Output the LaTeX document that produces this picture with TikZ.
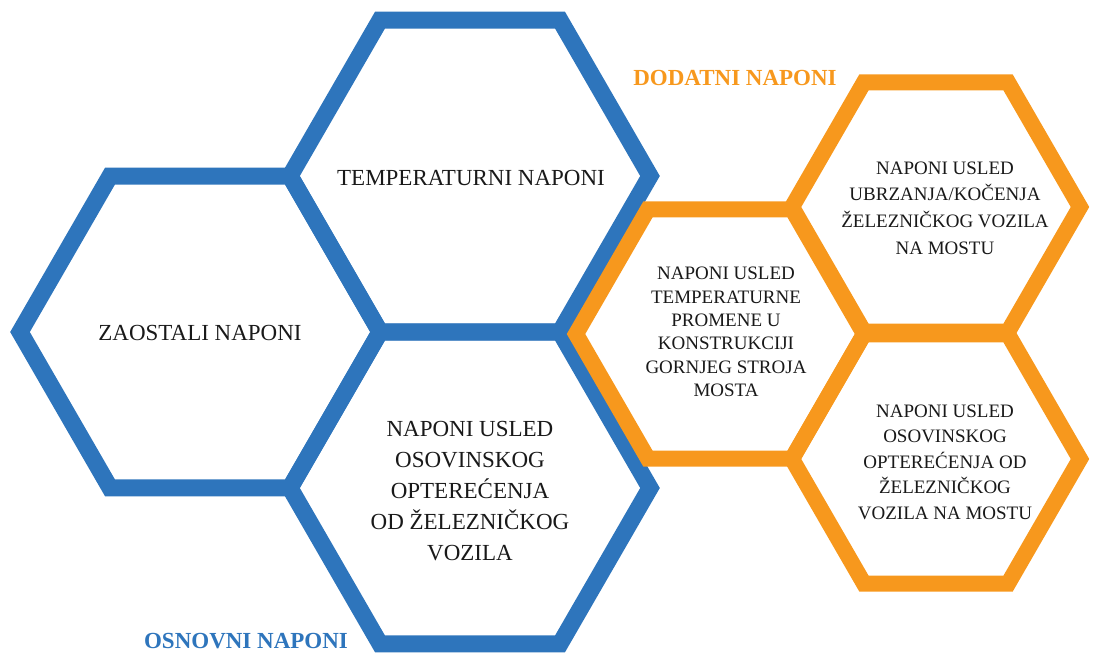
\documentclass[tikz,border=0pt]{standalone}
\usepackage{fontspec}
\setmainfont{Liberation Serif}
\definecolor{hexblue}{RGB}{46,117,188}
\definecolor{hexorange}{RGB}{247,152,29}
\definecolor{txt}{RGB}{25,25,25}
\newcommand{\hexcell}[4]{\draw[#4, shift={(#1,#2)}] (0:#3) -- (60:#3) -- (120:#3) -- (180:#3) -- (240:#3) -- (300:#3) -- cycle;}
\tikzset{
  bluehex/.style={draw=hexblue, line width=17pt, line join=miter},
  orangehex/.style={draw=hexorange, line width=16pt, line join=miter},
  bigtext/.style={text=txt, align=center, font=\fontsize{23}{31}\selectfont},
  smalltext/.style={text=txt, align=center, font=\fontsize{19}{#1}\selectfont},
  title/.style={font=\bfseries\fontsize{23}{28}\selectfont}
}
\begin{document}
\begin{tikzpicture}[x=1pt,y=-1pt]
\useasboundingbox (0,0) rectangle (1093,653);
% blue honeycomb
\hexcell{200}{332}{180}{bluehex}
\hexcell{470}{176}{180}{bluehex}
\hexcell{470}{488}{180}{bluehex}
% orange honeycomb
\hexcell{720}{334}{144}{orangehex}
\hexcell{936}{207}{144}{orangehex}
\hexcell{936}{459}{144}{orangehex}
% texts
\node[bigtext] (zaostali) at (200,333) {ZAOSTALI NAPONI};
\node[bigtext] (temp) at (471,178) {TEMPERATURNI NAPONI};
\node[bigtext] (osov) at (470,491) {NAPONI USLED\\OSOVINSKOG\\OPTEREĆENJA\\OD ŽELEZNIČKOG\\VOZILA};
\node[smalltext=23.3] (tempprom) at (726,332) {NAPONI USLED\\TEMPERATURNE\\PROMENE U\\KONSTRUKCIJI\\GORNJEG STROJA\\MOSTA};
\node[smalltext=26.7] (ubrz) at (945,208) {NAPONI USLED\\UBRZANJA/KOČENJA\\ŽELEZNIČKOG VOZILA\\NA MOSTU};
\node[smalltext=25.5] (osovmost) at (945,462) {NAPONI USLED\\OSOVINSKOG\\OPTEREĆENJA OD\\ŽELEZNIČKOG\\VOZILA NA MOSTU};
\node[title, text=hexorange] (dodatni) at (735,78) {DODATNI NAPONI};
\node[title, text=hexblue] (osnovni) at (246,641) {OSNOVNI NAPONI};
\end{tikzpicture}
\end{document}
